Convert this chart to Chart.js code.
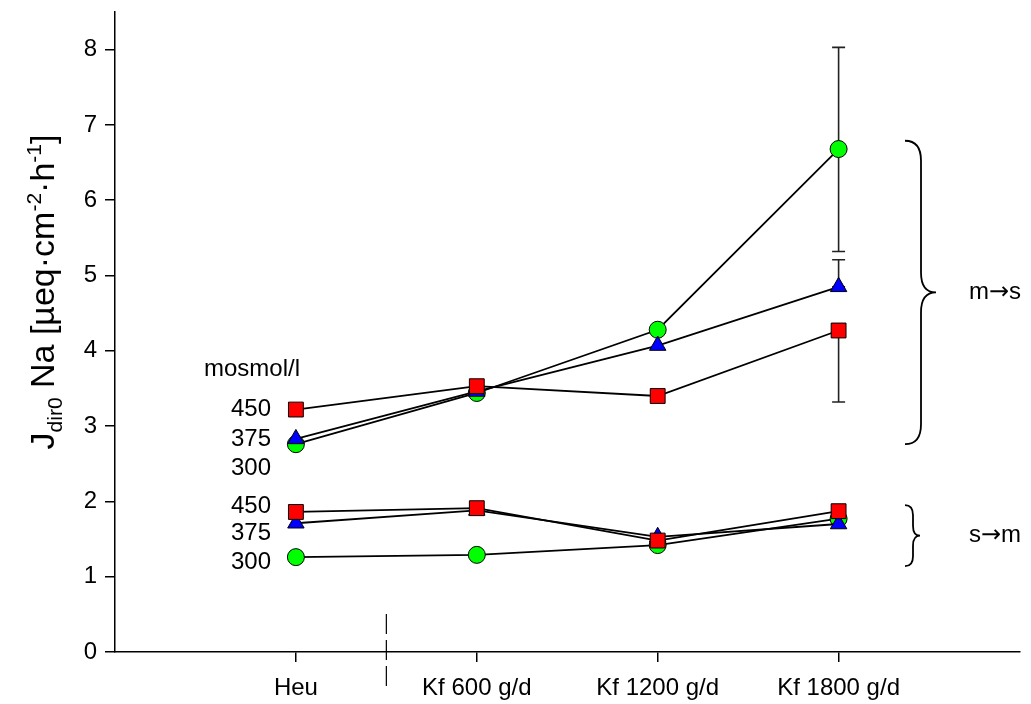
<!DOCTYPE html>
<html><head><meta charset="utf-8">
<script src="https://cdn.jsdelivr.net/npm/chart.js@4/dist/chart.umd.min.js"></script>
<style>html,body{margin:0;padding:0;background:#fff;} #wrap{width:1031px;height:704px;}</style>
</head><body><div id="wrap"><canvas id="c" width="1031" height="704"></canvas></div>
<script>
const categories = ['Heu', 'Kf 600 g/d', 'Kf 1200 g/d', 'Kf 1800 g/d'];
const categoryPositions = [1, 2, 3, 4];
const yTicks = [0, 1, 2, 3, 4, 5, 6, 7, 8];
// m -> s (mucosa to serosa), mosmol/l
const ms300 = [2.76, 3.44, 4.28, 6.68];
const ms375 = [2.83, 3.46, 4.07, 4.85];
const ms450 = [3.22, 3.53, 3.40, 4.27];
// s -> m (serosa to mucosa), mosmol/l
const sm300 = [1.26, 1.29, 1.42, 1.77];
const sm375 = [1.71, 1.88, 1.53, 1.70];
const sm450 = [1.86, 1.91, 1.48, 1.87];
// error bars at Kf 1800 g/d [low, high]
const err300 = [5.32, 8.03];
const err375 = [4.85, 5.21];
const err450 = [3.32, 4.27];
const osmLabels = ['450', '375', '300'];
const osmLabelYUpper = [3.22, 2.83, 2.44];
const osmLabelYLower = [1.94, 1.58, 1.19];

const FONT = '"Liberation Sans", Arial, sans-serif';

function pts(arr) { return arr.map((v, i) => ({ x: categoryPositions[i], y: v })); }

const styles = {
  300: { pointStyle: 'circle', pointRadius: 8.5, backgroundColor: '#00ff00' },
  375: { pointStyle: 'triangle', pointRadius: 9.5, backgroundColor: '#0000ff' },
  450: { pointStyle: 'rect', pointRadius: 10.5, backgroundColor: '#ff0000' }
};
function ds(label, arr, key) {
  const s = styles[key];
  return {
    label, data: pts(arr), showLine: true,
    borderColor: '#000', borderWidth: 1.8,
    pointStyle: s.pointStyle, pointRadius: s.pointRadius, pointHoverRadius: s.pointRadius,
    pointBackgroundColor: s.backgroundColor, pointBorderColor: '#000', pointBorderWidth: 1
  };
}

function arrowText(ctx, a, b, x, y) {
  ctx.font = '24px ' + FONT;
  ctx.fillText(a, x, y); x += ctx.measureText(a).width;
  ctx.font = '24px "DejaVu Sans"';
  ctx.fillText('\u2192', x, y); x += ctx.measureText('\u2192').width;
  ctx.font = '24px ' + FONT;
  ctx.fillText(b, x, y);
}

const annot = {
  id: 'annot',
  beforeDatasetsDraw(chart) {
    const ctx = chart.ctx, x = chart.scales.x, y = chart.scales.y;
    ctx.save();
    ctx.strokeStyle = '#222'; ctx.lineWidth = 1.6;
    const xp = x.getPixelForValue(4);
    [err300, err375, err450].forEach(e => {
      const y1 = y.getPixelForValue(e[0]), y2 = y.getPixelForValue(e[1]);
      ctx.beginPath();
      ctx.moveTo(xp, y1); ctx.lineTo(xp, y2);
      ctx.moveTo(xp - 6.5, y1); ctx.lineTo(xp + 6.5, y1);
      ctx.moveTo(xp - 6.5, y2); ctx.lineTo(xp + 6.5, y2);
      ctx.stroke();
    });
    ctx.restore();
  },
  afterDraw(chart) {
    const ctx = chart.ctx, x = chart.scales.x, y = chart.scales.y;
    ctx.save();
    ctx.fillStyle = '#000'; ctx.strokeStyle = '#000';
    // dashed separator
    const dx = x.getPixelForValue(1.5);
    ctx.lineWidth = 1.2; ctx.setLineDash([20, 6]);
    ctx.beginPath(); ctx.moveTo(dx, 614); ctx.lineTo(dx, 687); ctx.stroke();
    ctx.setLineDash([]);
    // osmolarity labels
    ctx.font = '24px ' + FONT; ctx.textBaseline = 'middle';
    ctx.textAlign = 'center';
    ctx.fillText('mosmol/l', 252, 369);
    ctx.textAlign = 'right';
    osmLabels.forEach((t, i) => {
      ctx.fillText(t, 271, y.getPixelForValue(osmLabelYUpper[i]));
      ctx.fillText(t, 271, y.getPixelForValue(osmLabelYLower[i]));
    });
    // braces
    ctx.lineWidth = 1.8;
    function brace(top, bot, xv, xe, xt, r) {
      const mid = (top + bot) / 2;
      ctx.beginPath();
      ctx.moveTo(xe, top);
      ctx.quadraticCurveTo(xv, top, xv, top + r);
      ctx.lineTo(xv, mid - r);
      ctx.quadraticCurveTo(xv, mid, xt, mid);
      ctx.quadraticCurveTo(xv, mid, xv, mid + r);
      ctx.lineTo(xv, bot - r);
      ctx.quadraticCurveTo(xv, bot, xe, bot);
      ctx.stroke();
    }
    brace(y.getPixelForValue(6.79), y.getPixelForValue(2.76), 921, 905, 936, 20);
    brace(y.getPixelForValue(1.95), y.getPixelForValue(1.14), 913, 905, 920, 10);
    ctx.textAlign = 'left';
    arrowText(ctx, 'm', 's', 969, y.getPixelForValue(4.77));
    arrowText(ctx, 's', 'm', 969, y.getPixelForValue(1.55));
    // y-axis title with sub/superscripts
    const parts = [
      ['J', 0], ['dir0', -1], [' Na [\u00b5eq\u00b7cm', 0], ['-2', 1], ['\u00b7h', 0], ['-1', 1], [']', 0]
    ];
    const big = 34, small = 21;
    let total = 0;
    parts.forEach(p => { ctx.font = (p[1] ? small : big) + 'px ' + FONT; total += ctx.measureText(p[0]).width; });
    ctx.translate(42, 292); ctx.rotate(-Math.PI / 2);
    ctx.textAlign = 'left'; ctx.textBaseline = 'alphabetic';
    let cx = -total / 2;
    parts.forEach(p => {
      ctx.font = (p[1] ? small : big) + 'px ' + FONT;
      const off = p[1] === -1 ? 8 : (p[1] === 1 ? -13 : 0);
      ctx.fillText(p[0], cx, 12 + off);
      cx += ctx.measureText(p[0]).width;
    });
    ctx.restore();
  }
};

new Chart(document.getElementById('c'), {
  type: 'scatter',
  data: {
    datasets: [
      ds('450 m\u2192s', ms450, 450), ds('375 m\u2192s', ms375, 375), ds('300 m\u2192s', ms300, 300),
      ds('450 s\u2192m', sm450, 450), ds('375 s\u2192m', sm375, 375), ds('300 s\u2192m', sm300, 300)
    ]
  },
  options: {
    responsive: false, animation: false,
    layout: { padding: { left: 0, right: -6, top: 12, bottom: 0 } },
    plugins: { legend: { display: false }, tooltip: { enabled: false } },
    scales: {
      x: {
        type: 'linear', min: 0, max: 5,
        afterFit: s => { s.height = 52; s.paddingLeft = 0; s.paddingRight = 0; },
        afterBuildTicks: s => { s.ticks = categoryPositions.map(v => ({ value: v })); },
        ticks: { color: '#000', font: { family: FONT, size: 24 }, padding: 12, maxRotation: 0,
          callback: v => categories[categoryPositions.indexOf(v)] || '' },
        grid: { drawOnChartArea: false, drawTicks: true, tickLength: 10, color: '#000', lineWidth: 1.5 },
        border: { display: true, color: '#000', width: 1.5 }
      },
      y: {
        min: 0, max: 8.5,
        afterFit: s => { s.width = 115; s.paddingTop = 0; s.paddingBottom = 0; },
        afterBuildTicks: s => { s.ticks = yTicks.map(v => ({ value: v })); },
        ticks: { color: '#000', font: { family: FONT, size: 24 }, padding: 8 },
        grid: { drawOnChartArea: false, drawTicks: true, tickLength: 10, color: '#000', lineWidth: 1.5 },
        border: { display: true, color: '#000', width: 1.5 }
      }
    }
  },
  plugins: [annot]
});
</script></body></html>
